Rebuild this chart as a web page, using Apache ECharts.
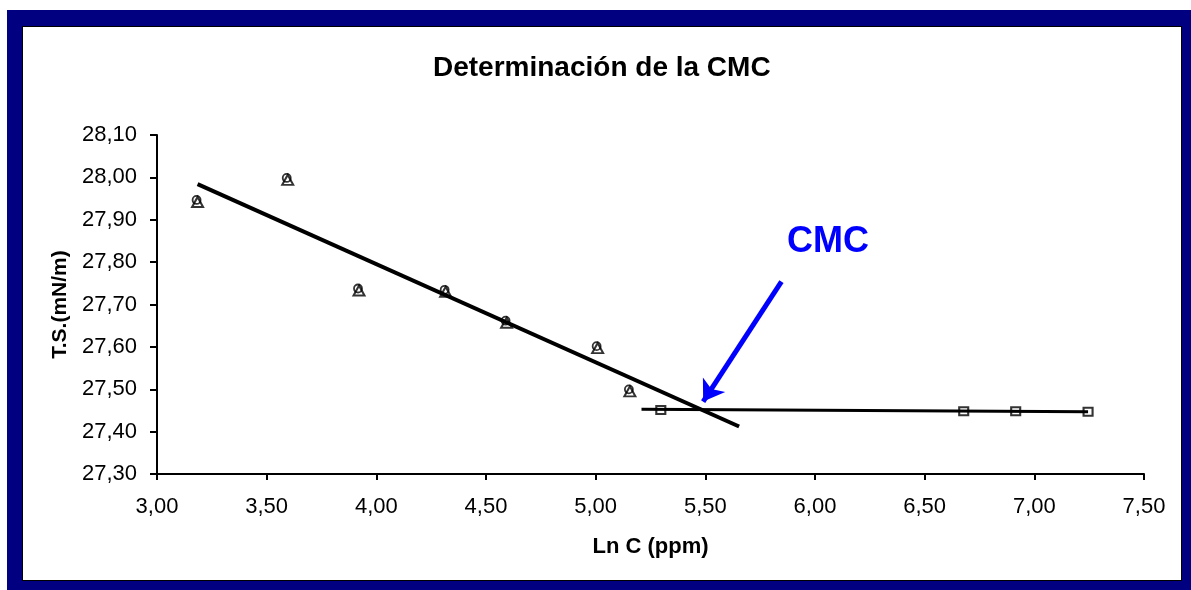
<!DOCTYPE html>
<html>
<head>
<meta charset="utf-8">
<script src="https://cdn.jsdelivr.net/npm/echarts@6/dist/echarts.min.js"></script>
<style>
  html, body { margin: 0; padding: 0; background: #ffffff; }
  #outer { position: absolute; left: 7px; top: 10px; width: 1184px; height: 580px; background: #000080; }
  #inner { position: absolute; left: 22px; top: 26px; width: 1158px; height: 553px; background: #ffffff; border: 1.5px solid #000; }
  #chart { position: absolute; left: 0; top: 0; width: 1191px; height: 590px; }
</style>
</head>
<body>
<div id="outer"></div>
<div id="inner"></div>
<div id="chart"></div>
<script>
// Data
var titleText = 'Determinación de la CMC';
var xName = 'Ln C (ppm)';
var yName = 'T.S.(mN/m)';
var lnC1 = [3.185, 3.596, 3.921, 4.316, 4.594, 5.009, 5.156];
var ts1  = [27.942, 27.994, 27.733, 27.730, 27.657, 27.597, 27.495];
var lnC2 = [5.297, 6.678, 6.915, 7.245];
var ts2  = [27.451, 27.448, 27.448, 27.447];
var fit1 = [[3.185, 27.984], [5.654, 27.412]];
var fit2 = [[5.209, 27.453], [7.245, 27.447]];
var arrowPts = [[5.847, 27.754], [5.490, 27.471]];
var cmcLabel = 'CMC';
var xMin = 3.0, xMax = 7.5, xStep = 0.5;
var yMin = 27.3, yMax = 28.1, yStep = 0.1;

function pairs(xs, ys) { return xs.map(function (x, i) { return [x, ys[i]]; }); }
function fmt(v) { return v.toFixed(2).replace('.', ','); }

var FONT = '"Liberation Sans", Arial, sans-serif';
var chart = echarts.init(document.getElementById('chart'), null, { renderer: 'canvas' });
chart.setOption({
  backgroundColor: 'transparent',
  animation: false,
  title: {
    text: titleText,
    left: 428, top: 49,
    textStyle: { fontFamily: FONT, fontWeight: 'bold', fontSize: 28, color: '#000' }
  },
  grid: { left: 157, right: 47, top: 135, bottom: 116, containLabel: false },
  xAxis: {
    type: 'value', min: xMin, max: xMax, interval: xStep,
    name: xName, nameLocation: 'middle', nameGap: 62,
    nameTextStyle: { fontFamily: FONT, fontWeight: 'bold', fontSize: 22, color: '#000' },
    axisLine: { show: true, lineStyle: { color: '#000', width: 2 } },
    axisTick: { show: true, length: 6, lineStyle: { color: '#000', width: 2 } },
    axisLabel: { margin: 22, fontFamily: FONT, fontSize: 22, color: '#000', formatter: fmt },
    splitLine: { show: false }
  },
  yAxis: {
    type: 'value', min: yMin, max: yMax, interval: yStep,
    name: yName, nameLocation: 'middle', nameGap: 86,
    nameTextStyle: { fontFamily: FONT, fontWeight: 'bold', fontSize: 21, color: '#000' },
    axisLine: { show: true, lineStyle: { color: '#000', width: 2 } },
    axisTick: { show: true, length: 7, lineStyle: { color: '#000', width: 2 } },
    axisLabel: { margin: 20, fontFamily: FONT, fontSize: 22, color: '#000', formatter: fmt },
    splitLine: { show: false }
  },
  series: [
    {
      type: 'line', data: fit1, symbol: 'none', z: 3,
      lineStyle: { color: '#000', width: 4 }
    },
    {
      type: 'line', data: fit2, symbol: 'none', z: 3,
      lineStyle: { color: '#000', width: 3 }
    },
    {
      type: 'scatter', data: pairs(lnC1, ts1), symbol: 'triangle', symbolSize: [11, 10], z: 4,
      itemStyle: { color: 'rgba(255,255,255,0)', borderColor: '#000', borderWidth: 2 }
    },
    {
      type: 'scatter', data: pairs(lnC1, ts1), symbol: 'circle', symbolSize: 8, symbolOffset: [-1, -2], z: 4,
      itemStyle: { color: 'rgba(255,255,255,0)', borderColor: '#000', borderWidth: 1.8 }
    },
    {
      type: 'scatter', data: pairs(lnC2, ts2), symbol: 'rect', symbolSize: [9, 8], z: 4,
      itemStyle: { color: 'rgba(255,255,255,0)', borderColor: '#000', borderWidth: 2 }
    },
    {
      type: 'line', data: [], symbol: 'none', z: 5,
      markLine: {
        silent: true, animation: false,
        symbol: ['none', 'arrow'], symbolSize: [20, 20],
        label: { show: false },
        lineStyle: { color: '#0000ff', width: 5, type: 'solid' },
        data: [[{ coord: arrowPts[0] }, { coord: arrowPts[1] }]]
      }
    }
  ],
  graphic: [
    {
      type: 'text', left: 787, top: 224, z: 10,
      style: { text: cmcLabel, fontFamily: FONT, fontWeight: 'bold', fontSize: 36, fill: '#0000ff' }
    }
  ]
});
</script>
</body>
</html>
